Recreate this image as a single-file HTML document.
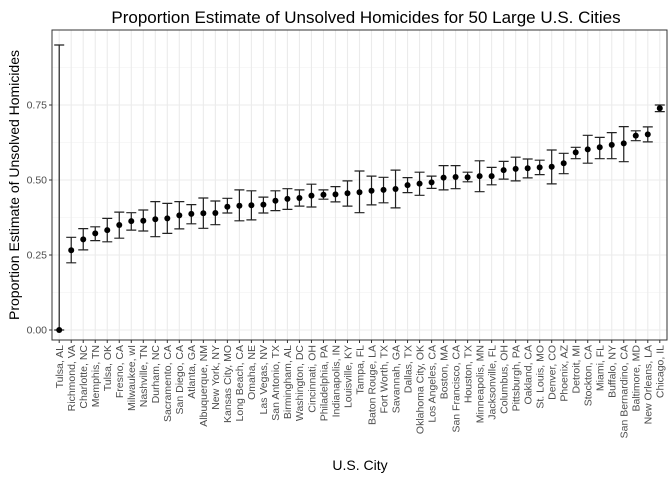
<!DOCTYPE html>
<html><head><meta charset="utf-8"><style>
body{margin:0;background:#fff}
svg{display:block;font-family:"Liberation Sans",sans-serif}
</style></head><body>
<svg id="chart" width="672" height="480" viewBox="0 0 672 480">
<text x="366" y="23" text-anchor="middle" font-size="17" fill="#000">Proportion Estimate of Unsolved Homicides for 50 Large U.S. Cities</text>
<text x="360" y="470" text-anchor="middle" font-size="14" fill="#000">U.S. City</text>
<text transform="translate(19,185) rotate(-90)" text-anchor="middle" font-size="14" fill="#000">Proportion Estimate of Unsolved Homicides</text>
<g id="grid"></g><g id="marks"></g><g id="axes"></g>
</svg>
<script>
const cities=["Tulsa, AL","Richmond, VA","Charlotte, NC","Memphis, TN","Tulsa, OK","Fresno, CA","Milwaukee, wI","Nashville, TN","Durham, NC","Sacramento, CA","San Diego, CA","Atlanta, GA","Albuquerque, NM","New York, NY","Kansas City, MO","Long Beach, CA","Omaha, NE","Las Vegas, NV","San Antonio, TX","Birmingham, AL","Washington, DC","Cincinnati, OH","Philadelphia, PA","Indianapolis, IN","Louisville, KY","Tampa, FL","Baton Rouge, LA","Fort Worth, TX","Savannah, GA","Dallas, TX","Oklahoma City, OK","Los Angeles, CA","Boston, MA","San Francisco, CA","Houston, TX","Minneapolis, MN","Jacksonville, FL","Columbus, OH","Pittsburgh, PA","Oakland, CA","St. Louis, MO","Denver, CO","Phoenix, AZ","Detroit, MI","Stockton, CA","Miami, FL","Buffalo, NY","San Bernardino, CA","Baltimore, MD","New Orleans, LA","Chicago, IL"];
const estimates=[0,0.266,0.302,0.322,0.333,0.35,0.363,0.364,0.369,0.372,0.382,0.387,0.389,0.39,0.411,0.414,0.416,0.418,0.431,0.437,0.44,0.448,0.451,0.452,0.456,0.459,0.464,0.467,0.47,0.483,0.488,0.492,0.508,0.51,0.509,0.513,0.513,0.533,0.537,0.539,0.542,0.544,0.556,0.592,0.602,0.609,0.617,0.622,0.648,0.652,0.739];
const lower=[0,0.224,0.267,0.298,0.294,0.306,0.333,0.33,0.311,0.322,0.337,0.354,0.339,0.351,0.39,0.364,0.367,0.39,0.398,0.402,0.413,0.41,0.436,0.427,0.413,0.391,0.417,0.424,0.407,0.458,0.449,0.472,0.467,0.471,0.494,0.461,0.484,0.503,0.497,0.507,0.518,0.487,0.521,0.571,0.556,0.571,0.571,0.561,0.631,0.627,0.728];
const upper=[0.95,0.309,0.338,0.344,0.372,0.393,0.391,0.4,0.428,0.422,0.428,0.418,0.44,0.43,0.439,0.467,0.464,0.443,0.464,0.471,0.467,0.486,0.467,0.478,0.497,0.53,0.513,0.509,0.533,0.508,0.526,0.513,0.548,0.548,0.526,0.564,0.542,0.562,0.576,0.57,0.566,0.6,0.589,0.609,0.649,0.642,0.658,0.678,0.664,0.677,0.75];
const yTicks=[0,0.25,0.5,0.75];
const yTickLabels=["0.00","0.25","0.50","0.75"];
</script>
<script>
const NS="http://www.w3.org/2000/svg";
const L=52,R=667,T=30,B=340;
const n=cities.length;
const step=(R-L)/(n-1+1.2);
function x(i){return L+step*0.6+i*step;}
function y(v){return 330-300*v;}
function mk(tag,attrs,parent){const e=document.createElementNS(NS,tag);for(const k in attrs)e.setAttribute(k,attrs[k]);parent.appendChild(e);return e;}
const grid=document.getElementById('grid'),marks=document.getElementById('marks'),axes=document.getElementById('axes');
mk('rect',{x:L,y:T,width:R-L,height:B-T,fill:'#fff'},grid);
for(let k=0;k<yTicks.length;k++){
 const g=mk('line',{x1:L,x2:R,y1:y(yTicks[k]+0.125),y2:y(yTicks[k]+0.125),stroke:'#f0f0f0','stroke-width':0.6},grid);
 
 
}
yTicks.forEach((t,k)=>{
 const g=mk('line',{x1:L,x2:R,y1:y(t),y2:y(t),stroke:'#ebebeb','stroke-width':1.1},grid);
 
 
 mk('line',{x1:L-3,x2:L,y1:y(t),y2:y(t),stroke:'#333','stroke-width':1},axes);
 const tx=mk('text',{x:L-5,y:y(t)+3.5,'text-anchor':'end','font-size':10.5,fill:'#4d4d4d'},axes);
 tx.textContent=yTickLabels[k];
 
 
});
cities.forEach((c,i)=>{
 const g=mk('line',{x1:x(i),x2:x(i),y1:T,y2:B,stroke:'#ebebeb','stroke-width':1.1},grid);
 
 
 mk('line',{x1:x(i),x2:x(i),y1:B,y2:B+3,stroke:'#333','stroke-width':1},axes);
 const tx=mk('text',{transform:`translate(${x(i)+3.8},${B+5}) rotate(-90)`,'text-anchor':'end','font-size':10.5,fill:'#4d4d4d'},axes);
 tx.textContent=c;
 
 
 const eb=mk('path',{d:`M${x(i)-5},${y(upper[i])}H${x(i)+5}M${x(i)},${y(upper[i])}V${y(lower[i])}M${x(i)-5},${y(lower[i])}H${x(i)+5}`,stroke:'#222','stroke-width':1.2,fill:'none'},marks);
 
 
 const p=mk('circle',{cx:x(i),cy:y(estimates[i]),r:3,fill:'#000'},marks);
 
 
});
mk('rect',{x:L,y:T,width:R-L,height:B-T,fill:'none',stroke:'#333','stroke-width':1},axes);
</script>
</body></html>
